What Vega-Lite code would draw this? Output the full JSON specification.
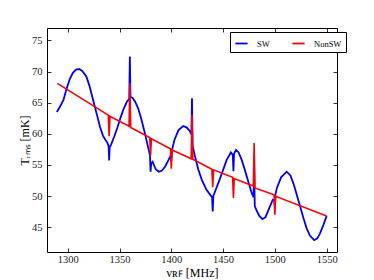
{
  "$schema": "https://vega.github.io/schema/vega-lite/v6.json",
  "width": 290,
  "height": 224,
  "autosize": {"type": "none"},
  "padding": {"left": 47, "top": 28, "right": 37, "bottom": 28},
  "background": "white",
  "config": {
    "view": {"stroke": "black", "strokeWidth": 1},
    "font": "Liberation Serif",
    "axis": {"grid": false, "domain": false, "tickColor": "black", "tickSize": -4, "tickWidth": 0.8, "labelColor": "#222", "labelFont": "Liberation Serif", "labelFontSize": 10.5, "titleFont": "Liberation Serif", "titleFontWeight": "normal", "titleFontSize": 12, "titleColor": "black"}
  },
  "datasets": {
    "sw": [
      {"f":1289.5,"T":63.5},{"f":1293,"T":64.5},{"f":1296,"T":65.5},{"f":1299,"T":67.3},{"f":1302,"T":68.8},{"f":1305,"T":69.8},{"f":1308,"T":70.3},{"f":1311,"T":70.4},{"f":1314,"T":70.1},{"f":1318,"T":69.2},{"f":1321,"T":67.7},{"f":1324.7,"T":65.3},{"f":1328,"T":63.2},{"f":1331,"T":61.2},{"f":1334,"T":59.7},{"f":1336.5,"T":59.0},{"f":1338.5,"T":58.5},{"f":1339.5,"T":58.0},{"f":1340,"T":55.7},{"f":1340.5,"T":57.8},{"f":1342,"T":58.3},{"f":1345,"T":59.6},{"f":1348,"T":61.0},{"f":1351,"T":62.6},{"f":1354,"T":64.0},{"f":1357,"T":65.1},{"f":1359.4,"T":65.6},{"f":1360,"T":72.4},{"f":1360.6,"T":65.9},{"f":1362.5,"T":65.8},{"f":1365,"T":65.2},{"f":1368,"T":64.1},{"f":1371,"T":62.4},{"f":1374.5,"T":60.1},{"f":1377.5,"T":57.9},{"f":1379.4,"T":56.6},{"f":1380,"T":53.9},{"f":1380.6,"T":55.2},{"f":1382,"T":55.5},{"f":1385,"T":54.3},{"f":1388,"T":53.9},{"f":1391,"T":54.1},{"f":1394,"T":54.7},{"f":1397,"T":55.7},{"f":1399.4,"T":56.5},{"f":1400,"T":55.6},{"f":1400.6,"T":57.3},{"f":1403,"T":59.0},{"f":1407,"T":60.6},{"f":1411.5,"T":61.25},{"f":1415,"T":61.0},{"f":1418,"T":60.4},{"f":1419.4,"T":59.9},{"f":1420,"T":65.7},{"f":1420.6,"T":58.0},{"f":1423,"T":56.3},{"f":1426,"T":54.3},{"f":1429.5,"T":52.6},{"f":1434,"T":51.0},{"f":1438,"T":50.1},{"f":1439.4,"T":49.8},{"f":1440,"T":47.5},{"f":1440.6,"T":50.0},{"f":1442,"T":50.6},{"f":1447,"T":52.8},{"f":1453.5,"T":55.8},{"f":1457.5,"T":57.0},{"f":1459.4,"T":56.6},{"f":1460,"T":54.0},{"f":1460.6,"T":56.8},{"f":1462.5,"T":57.4},{"f":1465,"T":57.0},{"f":1468,"T":55.8},{"f":1471,"T":54.2},{"f":1474.4,"T":52.3},{"f":1477.6,"T":50.5},{"f":1479.4,"T":49.8},{"f":1480,"T":55.0},{"f":1480.6,"T":48.4},{"f":1482,"T":47.8},{"f":1485,"T":46.8},{"f":1488,"T":46.3},{"f":1491,"T":46.6},{"f":1495,"T":48.2},{"f":1498,"T":49.4},{"f":1499.4,"T":49.3},{"f":1500,"T":48.3},{"f":1500.6,"T":50.3},{"f":1502,"T":51.3},{"f":1506,"T":53.0},{"f":1511.4,"T":53.9},{"f":1515,"T":53.3},{"f":1518,"T":52.0},{"f":1521,"T":50.3},{"f":1524.3,"T":48.4},{"f":1527.5,"T":46.5},{"f":1530.7,"T":44.8},{"f":1534,"T":43.6},{"f":1538,"T":42.9},{"f":1541,"T":43.2},{"f":1543.6,"T":44.0},{"f":1547,"T":45.4},{"f":1550,"T":46.8}
    ],
    "nonsw": [
      {"f":1290,"T":68.1},{"f":1339.2,"T":63.0},{"f":1340,"T":59.6},{"f":1340.8,"T":62.8},{"f":1359.2,"T":61.2},{"f":1360,"T":68.1},{"f":1360.8,"T":61.0},{"f":1379.2,"T":59.4},{"f":1380,"T":56.5},{"f":1380.8,"T":59.2},{"f":1399.2,"T":57.6},{"f":1400,"T":54.4},{"f":1400.8,"T":57.4},{"f":1419.2,"T":56.0},{"f":1420,"T":63.0},{"f":1420.8,"T":55.9},{"f":1439.2,"T":54.3},{"f":1440,"T":51.4},{"f":1440.8,"T":54.2},{"f":1459.2,"T":53.0},{"f":1460,"T":49.7},{"f":1460.8,"T":52.8},{"f":1479.2,"T":51.6},{"f":1480,"T":58.5},{"f":1480.8,"T":51.3},{"f":1499.2,"T":50.2},{"f":1500,"T":47.0},{"f":1500.8,"T":49.95},{"f":1550,"T":46.8}
    ]
  },
  "layer": [
    {
      "data": {"name": "sw"},
      "transform": [{"calculate": "'SW'", "as": "series"}],
      "mark": {"type": "line", "strokeWidth": 1.8, "clip": true},
      "encoding": {
        "x": {"field": "f", "type": "quantitative", "scale": {"domain": [1280, 1560], "nice": false, "zero": false},
              "axis": {"values": [1300, 1350, 1400, 1450, 1500, 1550], "format": "d", "labelPadding": 6, "title": "νʀꜰ [MHz]", "titleY": 20, "titleBaseline": "middle"}},
        "y": {"field": "T", "type": "quantitative", "scale": {"domain": [41, 77], "nice": false, "zero": false},
              "axis": {"values": [45, 50, 55, 60, 65, 70, 75], "format": "d", "labelPadding": 9, "title": "Tᵣₘₛ [mK]", "titleX": -23, "titleY": 112, "titleBaseline": "middle", "titleAngle": -90}},
        "color": {"field": "series", "type": "nominal", "scale": {"domain": ["SW", "NonSW"], "range": ["#0000ff", "#ff0000"]},
                  "legend": {"title": null, "orient": "none", "legendX": 183, "legendY": 4, "direction": "horizontal", "symbolType": "stroke", "symbolStrokeWidth": 1.8, "symbolSize": 150, "labelFont": "Liberation Serif", "labelFontSize": 8.5, "labelColor": "black", "labelOffset": 8, "columnPadding": 18, "padding": 4, "strokeColor": "black", "fillColor": "white", "cornerRadius": 0}}
      }
    },
    {
      "data": {"name": "nonsw"},
      "transform": [{"calculate": "'NonSW'", "as": "series"}],
      "mark": {"type": "line", "strokeWidth": 1.6, "clip": true},
      "encoding": {
        "x": {"field": "f", "type": "quantitative", "scale": {"domain": [1280, 1560], "nice": false, "zero": false},
              "axis": {"orient": "top", "values": [1300, 1350, 1400, 1450, 1500, 1550], "labels": false, "title": null}},
        "y": {"field": "T", "type": "quantitative", "scale": {"domain": [41, 77], "nice": false, "zero": false},
              "axis": {"orient": "right", "values": [45, 50, 55, 60, 65, 70, 75], "labels": false, "title": null}},
        "color": {"field": "series", "type": "nominal", "scale": {"domain": ["SW", "NonSW"], "range": ["#0000ff", "#ff0000"]}}
      }
    }
  ],
  "resolve": {"scale": {"x": "independent", "y": "independent"}, "axis": {"x": "independent", "y": "independent"}}
}
